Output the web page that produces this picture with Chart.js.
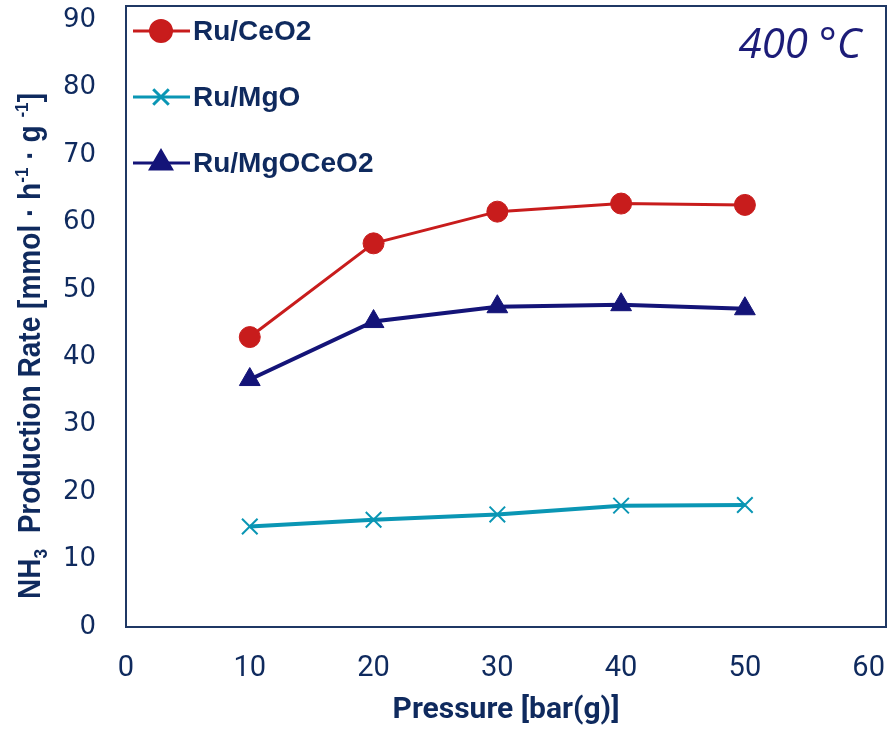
<!DOCTYPE html>
<html>
<head>
<meta charset="utf-8">
<script src="https://cdn.jsdelivr.net/npm/chart.js@4"></script>
<style>
  html, body { margin: 0; padding: 0; background: #fff; }
  #wrap { width: 887px; height: 730px; }
</style>
</head>
<body>
<div id="wrap"><canvas id="chart" width="887" height="730"></canvas></div>
<script>
// data
const pressure = [10, 20, 30, 40, 50];
const ruCeO2 = [43.0, 56.9, 61.6, 62.8, 62.6];
const ruMgO = [14.9, 15.9, 16.7, 18.0, 18.1];
const ruMgOCeO2 = [36.7, 45.3, 47.5, 47.8, 47.2];
const seriesNames = ['Ru/CeO2', 'Ru/MgO', 'Ru/MgOCeO2'];
const xTicks = [0, 10, 20, 30, 40, 50, 60];
const yTicks = [0, 10, 20, 30, 40, 50, 60, 70, 80, 90];
const tempLabel = '400 °C';
const xTitle = 'Pressure [bar(g)]';

const navy = '#0f2a5e';
const frame = '#1f3864';

function toPoints(ys) {
  return pressure.map((p, i) => ({ x: p, y: ys[i] }));
}

// y title with sub/superscripts, drawn rotated
const yTitleParts = [
  { t: 'NH' }, { t: '3', sub: true }, { t: '  Production Rate [mmol · h' },
  { t: '-1', sup: true }, { t: ' · g ' }, { t: '-1', sup: true }, { t: ']' }
];

const extras = {
  id: 'extras',
  afterDraw(chart) {
    const ctx = chart.ctx;
    const area = chart.chartArea;
    ctx.save();

    // plot frame
    ctx.strokeStyle = frame;
    ctx.lineWidth = 2;
    ctx.strokeRect(area.left, area.top, area.right - area.left, area.bottom - area.top);

    // legend inside the plot
    const rows = [31, 97, 163];
    chart.data.datasets.forEach((ds, i) => {
      const y = rows[i];
      ctx.strokeStyle = ds.borderColor;
      ctx.lineWidth = 3;
      ctx.beginPath();
      ctx.moveTo(133, y);
      ctx.lineTo(190, y);
      ctx.stroke();
      ctx.fillStyle = ds.pointBackgroundColor;
      ctx.strokeStyle = ds.pointBorderColor;
      Chart.helpers.drawPoint(ctx, {
        pointStyle: ds.pointStyle,
        radius: ds.pointRadius,
        borderWidth: ds.pointBorderWidth,
        rotation: 0
      }, 161, y);
      ctx.fillStyle = navy;
      ctx.font = 'bold 28px "Liberation Sans", Arial, sans-serif';
      ctx.textAlign = 'left';
      ctx.textBaseline = 'middle';
      ctx.fillText(ds.label, 193, y + 1);
    });

    // temperature note
    ctx.fillStyle = '#1c1c78';
    ctx.font = 'italic 42px "Open Sans", sans-serif';
    ctx.textAlign = 'center';
    ctx.textBaseline = 'middle';
    ctx.fillText(tempLabel, 800, 46);

    // y axis title, squeezed to the reference length
    const fs = 31;
    const base = 'bold ' + fs + 'px "Liberation Sans", sans-serif';
    const small = 'bold ' + Math.round(fs * 0.62) + 'px "Liberation Sans", sans-serif';
    let total = 0;
    yTitleParts.forEach(p => {
      ctx.font = (p.sub || p.sup) ? small : base;
      p.w = ctx.measureText(p.t).width;
      total += p.w;
    });
    ctx.translate(40, 346);
    ctx.rotate(-Math.PI / 2);
    ctx.scale(506 / total, 1);
    ctx.fillStyle = navy;
    ctx.textAlign = 'left';
    ctx.textBaseline = 'alphabetic';
    let cx = -total / 2;
    yTitleParts.forEach(p => {
      ctx.font = (p.sub || p.sup) ? small : base;
      let dy = 0;
      if (p.sub) dy = fs * 0.22;
      if (p.sup) dy = -fs * 0.38;
      ctx.fillText(p.t, cx, dy);
      cx += p.w;
    });
    ctx.restore();
  }
};

new Chart(document.getElementById('chart'), {
  type: 'line',
  data: {
    datasets: [
      {
        label: seriesNames[0],
        data: toPoints(ruCeO2),
        borderColor: '#c81c1c',
        borderWidth: 3,
        pointStyle: 'circle',
        pointRadius: 10.5,
        pointBackgroundColor: '#c81c1c',
        pointBorderColor: '#c81c1c',
        pointBorderWidth: 1
      },
      {
        label: seriesNames[1],
        data: toPoints(ruMgO),
        borderColor: '#0a96b4',
        borderWidth: 4,
        pointStyle: 'crossRot',
        pointRadius: 11,
        pointBackgroundColor: '#0a96b4',
        pointBorderColor: '#0a96b4',
        pointBorderWidth: 2
      },
      {
        label: seriesNames[2],
        data: toPoints(ruMgOCeO2),
        borderColor: '#141478',
        borderWidth: 4,
        pointStyle: 'triangle',
        pointRadius: 12,
        pointBackgroundColor: '#141478',
        pointBorderColor: '#141478',
        pointBorderWidth: 1
      }
    ]
  },
  options: {
    responsive: false,
    animation: false,
    layout: { autoPadding: false, padding: { top: 6, right: 1, left: 0, bottom: 0 } },
    plugins: {
      legend: { display: false },
      tooltip: { enabled: false }
    },
    scales: {
      x: {
        type: 'linear',
        min: 0,
        max: 61.4,
        afterBuildTicks: s => { s.ticks = xTicks.map(v => ({ value: v })); },
        afterFit: s => { s.height = 103; s.paddingLeft = 0; s.paddingRight = 0; },
        grid: { display: false, drawTicks: false },
        border: { display: true, color: frame, width: 2 },
        ticks: {
          color: navy,
          padding: 24,
          maxRotation: 0,
          font: { family: '"Liberation Sans Narrow", Roboto, sans-serif', size: 29 }
        },
        title: {
          display: true,
          text: xTitle,
          color: navy,
          padding: { top: 0, bottom: 2 },
          font: { family: 'Roboto, sans-serif', size: 30, weight: 'bold' }
        }
      },
      y: {
        min: 0,
        max: 92.1,
        afterBuildTicks: s => { s.ticks = yTicks.map(v => ({ value: v })); },
        afterFit: s => { s.width = 126; s.paddingTop = 0; s.paddingBottom = 0; },
        grid: { display: false, drawTicks: false },
        border: { display: true, color: frame, width: 2 },
        ticks: {
          color: navy,
          padding: 30,
          font: { family: '"DejaVu Sans", sans-serif', size: 26 }
        }
      }
    }
  },
  plugins: [extras]
});
</script>
</body>
</html>
